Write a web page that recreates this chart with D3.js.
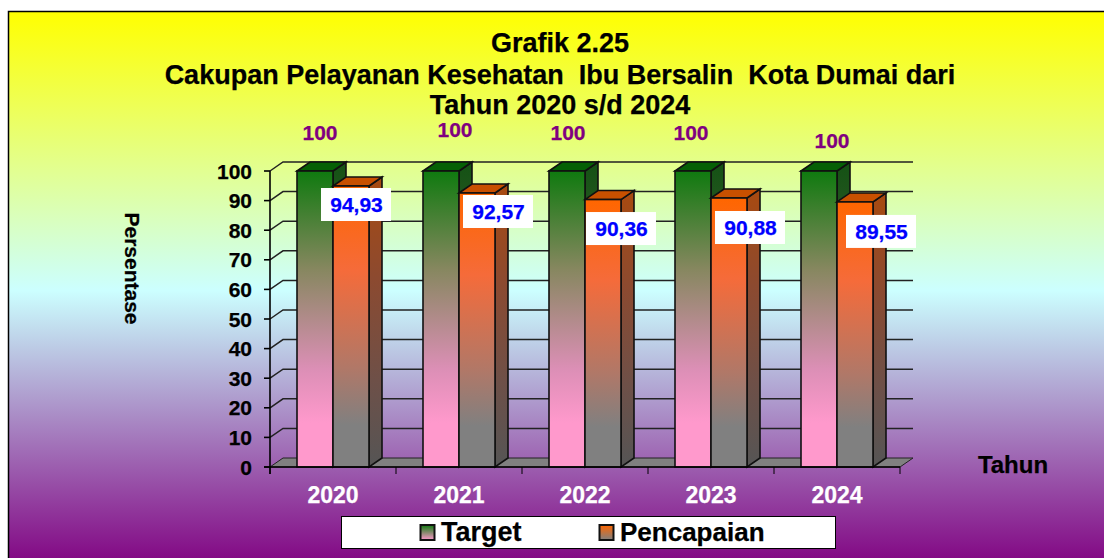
<!DOCTYPE html>
<html><head><meta charset="utf-8">
<script src="https://cdn.jsdelivr.net/npm/d3@7"></script>
<style>html,body{margin:0;padding:0;background:#fff;overflow:hidden}svg{display:block}text{font-family:"Liberation Sans",Arial,sans-serif;font-weight:bold;stroke:currentColor;stroke-width:.25px}</style>
</head><body><svg id="c" width="1104" height="558"></svg>
<script>
const years = ["2020","2021","2022","2023","2024"];
const target = [100,100,100,100,100];
const pencapaian = [94.93,92.57,90.36,90.88,89.55];
const pencapaianLabels = ["94,93","92,57","90,36","90,88","89,55"];
const yTicks = [0,10,20,30,40,50,60,70,80,90,100];
const titleLines = ["Grafik 2.25","Cakupan Pelayanan Kesehatan\u00a0\u00a0Ibu Bersalin\u00a0\u00a0Kota Dumai dari","Tahun 2020 s/d 2024"];
const seriesNames = ["Target","Pencapaian"];

const W=1104,H=558, dx=13, dy=-9;
const svg=d3.select("#c");
const defs=svg.append("defs");
function grad(id,stops){
  const g=defs.append("linearGradient").attr("id",id).attr("x1",0).attr("x2",0).attr("y1",0).attr("y2",1);
  stops.forEach(([o,c])=>g.append("stop").attr("offset",o).attr("stop-color",c));
}
grad("bg",[[0,"#ffff00"],[0.5,"#ccffff"],[1,"#800080"]]);
grad("gFront",[[0,"#0f7a0f"],[0.33,"#86875f"],[0.67,"#dc8fb6"],[0.85,"#ff99cc"],[1,"#ff99cc"]]);
grad("oFront",[[0,"#ff6600"],[0.3,"#f56b3a"],[0.65,"#b07868"],[0.85,"#808080"],[1,"#808080"]]);
grad("gSide",[[0,"#145214"],[0.4,"#3a5a30"],[1,"#555555"]]);
grad("oSide",[[0,"#a84a10"],[0.35,"#8c4a30"],[0.7,"#6e5048"],[1,"#555555"]]);
grad("gLeg",[[0,"#0f7a0f"],[1,"#ff99cc"]]);
grad("oLeg",[[0,"#ff6600"],[1,"#808080"]]);

svg.append("rect").attr("x",8.5).attr("y",11.5).attr("width",W).attr("height",H)
  .attr("fill","url(#bg)").attr("stroke","#000").attr("stroke-width",1.5);

const x=d3.scaleBand().domain(years).range([270,900]);
const y=d3.scaleLinear().domain([0,100]).range([467,171]);
const barW=36, groupOff=27;
const poly=(pts)=>pts.map(p=>p.join(",")).join(" ");

const grid=svg.append("g");
yTicks.forEach(t=>{
  const Y=y(t);
  if(t>0) grid.append("polyline").attr("points",poly([[270,Y],[270+dx,Y+dy],[900+dx,Y+dy]]))
    .attr("fill","none").attr("stroke","#222").attr("stroke-width",1.5);
});
svg.append("polygon").attr("points",poly([[270,467],[270+dx,467+dy],[900+dx,467+dy],[900,467]]))
  .attr("fill","#808080").attr("stroke","#222").attr("stroke-width",1);

function bar(g,X,val,front,side,top){
  const w=barW,Y=y(val),b=y(0);
  g.append("polygon").attr("points",poly([[X+w,Y],[X+w+dx,Y+dy],[X+w+dx,b+dy],[X+w,b]]))
    .attr("fill",`url(#${side})`).attr("stroke","#111").attr("stroke-width",1.6);
  g.append("polygon").attr("points",poly([[X,Y],[X+dx,Y+dy],[X+w+dx,Y+dy],[X+w,Y]]))
    .attr("fill",top).attr("stroke","#111").attr("stroke-width",1.6);
  g.append("rect").attr("x",X).attr("y",Y).attr("width",w).attr("height",b-Y)
    .attr("fill",`url(#${front})`).attr("stroke","#111").attr("stroke-width",1.6);
}
const bars=svg.append("g");
years.forEach((yr,i)=>{
  const X=x(yr)+groupOff;
  bar(bars,X,target[i],"gFront","gSide","#056005");
  bar(bars,X+barW,pencapaian[i],"oFront","oSide","#c85000");
});

const ax=svg.append("g").attr("stroke","#000").attr("stroke-width",1.6);
ax.append("line").attr("x1",270).attr("x2",270).attr("y1",y(100)).attr("y2",474);
ax.append("line").attr("x1",264).attr("x2",900).attr("y1",467).attr("y2",467);
yTicks.forEach(t=>ax.append("line").attr("x1",264).attr("x2",270).attr("y1",y(t)).attr("y2",y(t)));
[...years.map(d=>x(d)),900].forEach(v=>ax.append("line").attr("x1",v).attr("x2",v).attr("y1",467).attr("y2",474).attr("stroke-width",1));

svg.append("g").selectAll("text").data(yTicks).join("text")
  .attr("x",252).attr("y",d=>y(d)+7.5).attr("text-anchor","end").attr("font-size",21).attr("color","#000").text(d=>d);
svg.append("g").selectAll("text").data(years).join("text")
  .attr("x",d=>x(d)+x.bandwidth()/2).attr("y",503).attr("text-anchor","middle").attr("font-size",23).attr("fill","#fff").attr("color","#fff").text(d=>d);

const targetNudge=[[0,0],[9,-3],[-4,0],[-7,0],[8,8]];
svg.append("g").selectAll("text").data(target).join("text")
  .attr("x",(d,i)=>x(years[i])+groupOff+barW/2+5+targetNudge[i][0])
  .attr("y",(d,i)=>y(d)-31+targetNudge[i][1])
  .attr("text-anchor","middle").attr("font-size",21).attr("fill","#800080").attr("color","#800080").text(d=>d);

const labelNudge=[[5,18.5],[21,18.5],[18,29],[21,29.5],[26,29.5]];
const lab=svg.append("g");
pencapaian.forEach((v,i)=>{
  const cx=x(years[i])+groupOff+barW*1.5+labelNudge[i][0], cy=y(v)+labelNudge[i][1];
  lab.append("rect").attr("x",cx-35).attr("y",cy-16.5).attr("width",70).attr("height",33).attr("fill","#fff");
  lab.append("text").attr("x",cx+0.5).attr("y",cy+7.5).attr("text-anchor","middle").attr("font-size",21).attr("fill","#0000ff").attr("color","#0000ff").text(pencapaianLabels[i]);
});

svg.append("g").selectAll("text").data(titleLines).join("text")
  .attr("x",560).attr("y",(d,i)=>[52,84,114][i]).attr("text-anchor","middle").attr("font-size",27).attr("color","#000").text(d=>d);
svg.append("text").attr("transform","translate(125,268.5) rotate(90)").attr("text-anchor","middle").attr("font-size",21).attr("color","#000").text("Persentase");
svg.append("text").attr("x",1013).attr("y",473).attr("text-anchor","middle").attr("font-size",24).attr("color","#000").text("Tahun");

svg.append("rect").attr("x",341.5).attr("y",516.5).attr("width",494).attr("height",32).attr("fill","#fff").attr("stroke","#000").attr("stroke-width",1);
[[420.5,"gLeg",441,27],[599.5,"oLeg",620,26]].forEach(([sx,f,tx,fs],i)=>{
  svg.append("rect").attr("x",sx).attr("y",525).attr("width",14).attr("height",15).attr("fill",`url(#${f})`).attr("stroke","#111").attr("stroke-width",2);
  svg.append("text").attr("x",tx).attr("y",541).attr("font-size",fs).attr("color","#000").text(seriesNames[i]);
});
</script></body></html>
